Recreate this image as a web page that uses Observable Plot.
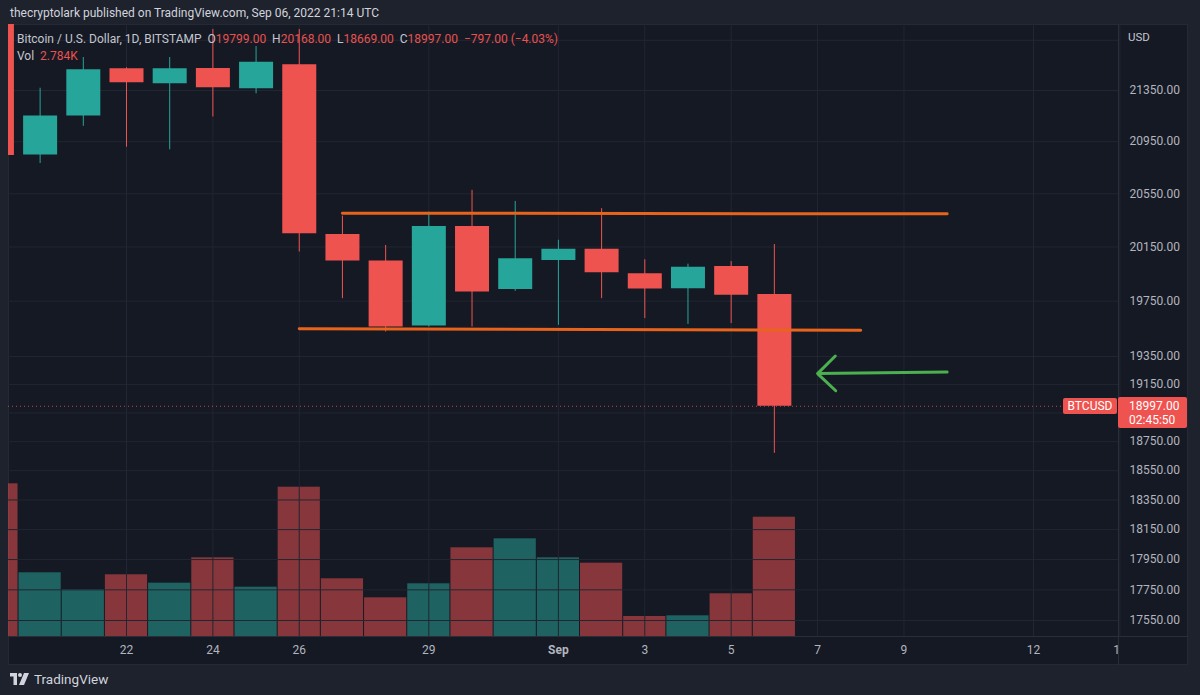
<!DOCTYPE html>
<html><head><meta charset="utf-8">
<script src="https://cdn.jsdelivr.net/npm/d3@7"></script>
<script src="https://cdn.jsdelivr.net/npm/@observablehq/plot@0.6"></script>
<style>
body{margin:0;background:#1e222d;font-family:Roboto,"Liberation Sans",sans-serif;}
#wrap{position:relative;width:1200px;height:695px;overflow:hidden;background:#1e222d}
#panel{position:absolute;left:8px;top:24px;width:1180px;height:641px;background:#151924;box-sizing:border-box;border:1px solid #252935}
.layer{position:absolute;left:0;top:0}
.abs{position:absolute;white-space:nowrap}
#header{left:10px;top:6px;font-size:12px;color:#d1d4dc}
#legend{left:17px;top:31px;font-size:12px;color:#c3c6ce;line-height:17px}
#legend .v{color:#e8524f}
#vsep{left:1118px;top:24px;width:1px;height:641px;background:#2a2e39}
#hsep{left:8px;top:636px;width:1180px;height:1px;background:#2a2e39}
#cover{left:1119px;top:637px;width:68px;height:27px;background:#151924}
#usd{left:1128px;top:30px;font-size:11.5px;color:#c3c6ce}
.badge{background:#ef5350;color:#fff;font-size:12px;border-radius:2px}
#logo{left:10px;top:671px;display:flex;align-items:center;gap:5px;color:#d1d4dc;font-size:13.5px}
</style></head>
<body>
<div id="wrap">
  <div id="panel"></div>
</div>
<script>
// ---------- data ----------
const dates = ["2022-08-19","2022-08-20","2022-08-21","2022-08-22","2022-08-23","2022-08-24","2022-08-25","2022-08-26","2022-08-27","2022-08-28","2022-08-29","2022-08-30","2022-08-31","2022-09-01","2022-09-02","2022-09-03","2022-09-04","2022-09-05","2022-09-06"];
const open   = [23200,20846,21149,21522,21403,21524,21363,21554,20243,20045,19569,20303,19836,20050,20132,19951,19841,20005,19799];
const high   = [23220,21368,21612,21530,21612,21837,21700,21837,20381,20161,20410,20576,20492,20200,20437,20055,20022,20041,20168];
const low    = [20780,20781,21069,20907,20887,21142,21324,20112,19768,19526,19562,19562,19822,19574,19768,19623,19581,19587,18669];
const close  = [20843,21149,21515,21411,21522,21371,21574,20249,20045,19562,20303,19816,20063,20132,19959,19839,20000,19794,18997];
const volume = [3564,1487,1090,1440,1244,1837,1151,3485,1347,903,1230,2070,2280,1837,1711,467,483,997,2784];

const priceTicks = [21350,20950,20550,20150,19750,19350,19150,18750,18550,18350,18150,17950,17750,17550];
const gridPrices = [21750,21350,20950,20550,20150,19750,19350,19150,18950,18750,18550,18350,18150,17950,17750,17550];
const dateTicks = ["2022-08-22","2022-08-24","2022-08-26","2022-08-29","2022-09-01","2022-09-03","2022-09-05","2022-09-07","2022-09-09","2022-09-12","2022-09-14"];
const dateTickLabels = ["22","24","26","29","Sep","3","5","7","9","12","14"];

const lastPrice = 18997;
const countdown = "02:45:50";
const resistanceDates = ["2022-08-27","2022-09-10"];
const resistancePrices = [20403,20398];
const supportDates = ["2022-08-26","2022-09-08"];
const supportPrices = [19550,19538];
const arrowDates = ["2022-09-10","2022-09-07"];
const arrowPrices = [19239,19228];

// ---------- build ----------
const parse = d3.utcParse("%Y-%m-%d");
const UP = "#26a69a", DOWN = "#ef5350";
const candles = dates.map((d,i)=>({date:parse(d),open:open[i],high:high[i],low:low[i],close:close[i],volume:volume[i]}));
const tickDates = dateTicks.map(parse);
const labelOf = new Map(dateTicks.map((d,i)=>[+parse(d), dateTickLabels[i]]));
const resistance = resistanceDates.map((d,i)=>({date:parse(d),price:resistancePrices[i]}));
const support = supportDates.map((d,i)=>({date:parse(d),price:supportPrices[i]}));
const arrowData = [{x1:parse(arrowDates[0]),y1:arrowPrices[0],x2:parse(arrowDates[1]),y2:arrowPrices[1]}];

const W=1200,H=695;
const margins = {marginTop:24, marginBottom:59, marginLeft:8, marginRight:82};
const xScale = {type:"utc", domain:[parse("2022-08-22"), parse("2022-09-12")], range:[126,1033]};
const font = "Roboto, 'Liberation Sans', sans-serif";
const sep1 = +parse("2022-09-01");

const pricePlot = Plot.plot({
  width:W, height:H, ...margins,
  style:{background:"transparent", fontFamily:font, fontSize:"12px", color:"#b2b5be"},
  x: xScale,
  y: {type:"log", domain:[17550,21350], range:[620,90]},
  marks:[
    Plot.gridY(gridPrices,{stroke:"#222632", strokeOpacity:1}),
    Plot.gridX(tickDates,{stroke:"#222632", strokeOpacity:1}),
    Plot.ruleY([lastPrice],{stroke:DOWN, strokeDasharray:"1,3", strokeOpacity:0.8}),
    Plot.ruleX(candles,{x:"date", y1:"low", y2:"high", stroke:d=>d.close>=d.open?UP:DOWN, strokeWidth:1, clip:true}),
    Plot.ruleX(candles,{x:"date", y1:"open", y2:"close", stroke:d=>d.close>=d.open?UP:DOWN, strokeWidth:34, clip:true}),
    Plot.line(resistance,{x:"date", y:"price", stroke:"#e8641c", strokeWidth:3}),
    Plot.line(support,{x:"date", y:"price", stroke:"#e8641c", strokeWidth:3}),
    Plot.arrow(arrowData,{x1:"x1", y1:"y1", x2:"x2", y2:"y2", stroke:"#4caf50", strokeWidth:3, headAngle:88, headLength:12.5}),
    Plot.axisY(priceTicks,{anchor:"right", tickSize:0, tickPadding:11, tickFormat:d=>d.toFixed(2), label:null, fill:"#b2b5be", fontSize:12}),
    Plot.axisX(tickDates.filter(d=>+d!==sep1),{anchor:"bottom", tickSize:0, tickPadding:9, tickFormat:d=>labelOf.get(+d), label:null, fill:"#b2b5be", fontSize:12}),
    Plot.axisX(tickDates.filter(d=>+d===sep1),{anchor:"bottom", tickSize:0, tickPadding:9, tickFormat:d=>labelOf.get(+d), label:null, fill:"#b2b5be", fontSize:12, fontWeight:"bold"})
  ]
});

const volPlot = Plot.plot({
  width:W, height:H, ...margins,
  style:{background:"transparent"},
  x: {...xScale, axis:null},
  y: {type:"linear", domain:[0,d3.max(volume)], range:[636,483.3], axis:null},
  marks:[
    Plot.rectY(candles,{x1:d=>new Date(+d.date-43200000), x2:d=>new Date(+d.date+43200000), y:"volume",
      fill:d=>d.close>=d.open?"rgba(38,166,154,0.52)":"rgba(239,83,80,0.52)", insetLeft:0.5, insetRight:0.5, clip:true})
  ]
});

const wrap = document.getElementById("wrap");
pricePlot.classList.add("layer"); volPlot.classList.add("layer");
pricePlot.style.position="absolute"; volPlot.style.position="absolute";
wrap.appendChild(volPlot);
wrap.appendChild(pricePlot);

function add(id, html, cls){ const d=document.createElement("div"); d.className="abs "+(cls||""); if(id) d.id=id; d.innerHTML=html; wrap.appendChild(d); return d; }
add("vsep",""); add("hsep",""); add("cover","");
add("header","thecryptolark published on TradingView.com, Sep 06, 2022 21:14 UTC");
const last = candles[candles.length-1], prev = candles[candles.length-2];
const chg = last.close-prev.close, pct = chg/prev.close*100;
const m = v=>v.toFixed(2).replace("-","−");
add("legend",
  `Bitcoin / U.S. Dollar, 1D, BITSTAMP&nbsp; O<span class="v">${m(last.open)}</span>&nbsp; H<span class="v">${m(last.high)}</span>&nbsp; L<span class="v">${m(last.low)}</span>&nbsp; C<span class="v">${m(last.close)}</span>&nbsp; <span class="v">${m(chg)} (${m(pct)}%)</span><br>Vol&nbsp; <span class="v">${(last.volume/1000).toFixed(3)}K</span>`);
add("usd","USD");
const yP = pricePlot.scale("y").apply(lastPrice);
const b1 = add(null,"BTCUSD","badge");
Object.assign(b1.style,{left:"1063px",top:(yP-8)+"px",width:"54px",height:"16px",lineHeight:"16px",textAlign:"center"});
const b2 = add(null,`${lastPrice.toFixed(2)}<br>${countdown}`,"badge");
Object.assign(b2.style,{left:"1118px",top:(yP-9)+"px",width:"69px",height:"31px",lineHeight:"14px",paddingLeft:"11px",paddingTop:"2px",boxSizing:"border-box"});
add("logo",`<svg width="19" height="12" viewBox="0 0 19 12"><path d="M0 0h7v12H3.5V3.5H0z" fill="#d1d4dc"/><circle cx="10" cy="2" r="2" fill="#d1d4dc"/><path d="M14 0h5l-5 12h-5z" fill="#d1d4dc"/></svg><span>TradingView</span>`);
</script>
</body></html>
